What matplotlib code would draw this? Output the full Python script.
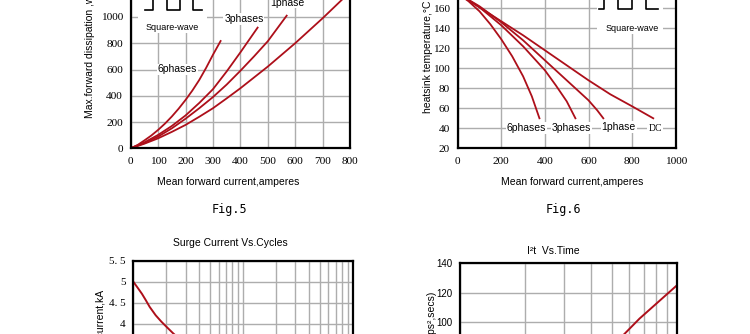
import numpy as np
import matplotlib
matplotlib.use("Agg")
import matplotlib.pyplot as plt
from matplotlib.patches import Rectangle
from matplotlib.ticker import FixedLocator, NullFormatter

# Fig.5 - max forward dissipation vs mean forward current
diss_6ph_x = [0, 25, 50, 75, 100, 125, 150, 175, 200, 225, 250, 275, 300, 328]
diss_6ph_y = [0, 25, 60, 97, 140, 188, 242, 302, 368, 440, 520, 612, 712, 817]
diss_3ph_x = [0, 50, 100, 150, 200, 250, 300, 350, 400, 463]
diss_3ph_y = [0, 45, 102, 170, 250, 345, 450, 585, 730, 919]
diss_1ph_x = [0, 50, 100, 150, 200, 250, 300, 350, 400, 450, 500, 569]
diss_1ph_y = [0, 40, 89, 152, 225, 305, 390, 485, 590, 700, 815, 1010]
diss_dc_x = [0, 50, 100, 150, 200, 250, 300, 350, 400, 500, 600, 700, 790]
diss_dc_y = [0, 35, 76, 125, 178, 240, 305, 380, 457, 622, 800, 990, 1170]

# Fig.6 - heatsink temperature vs mean forward current
temp_6ph_x = [0, 50, 100, 150, 200, 250, 300, 340, 375]
temp_6ph_y = [175, 167, 157, 144, 129, 112, 92, 72, 50]
temp_3ph_x = [0, 100, 200, 300, 400, 450, 500, 540]
temp_3ph_y = [175, 161, 143, 122, 98, 83, 67, 50]
temp_1ph_x = [0, 100, 200, 300, 400, 500, 600, 640, 668]
temp_1ph_y = [175, 162, 146, 128, 108, 88, 68, 58, 50]
temp_dc_x = [0, 100, 200, 300, 400, 500, 600, 700, 800, 897]
temp_dc_y = [175, 161, 147, 133, 118, 103, 88, 74, 62, 50]

# surge current vs cycles
surge_cycles = [1, 1.1, 1.2, 1.3, 1.41, 1.6, 1.8, 2, 2.31, 2.6]
surge_ka = [5.0, 4.85, 4.71, 4.56, 4.40, 4.20, 4.05, 3.93, 3.77, 3.65]
surge_ticks = [2.5, 3, 3.5, 4, 4.5, 5, 5.5]
surge_ticklabels = ["2. 5", "3", "3. 5", "4", "4. 5", "5", "5. 5"]

# I2t vs time
i2t_ms = [5.2, 6.7, 10]
i2t_val = [86, 102.5, 125.3]

RED = "#ad0f1a"
GRID = "#adadad"
SANS = "Liberation Sans"
SERIF = "Liberation Serif"

W, H = 750, 334


def box(l, t, r, b):
    return [l / W, 1 - b / H, (r - l) / W, (b - t) / H]


def px(x, y):
    return x / W, 1 - y / H


def style(ax, font, size):
    ax.grid(True, which="both", color=GRID, lw=1.0)
    ax.set_axisbelow(True)
    for s in ax.spines.values():
        s.set_linewidth(1.6)
    ax.tick_params(which="both", length=0, labelsize=size)
    ax.tick_params(axis="x", pad=6.0)
    ax.tick_params(axis="y", pad=5.5)
    for lab in ax.get_xticklabels() + ax.get_yticklabels():
        lab.set_fontfamily(font)


fig = plt.figure(figsize=(7.5, 3.34), dpi=100)

lbl = dict(fontfamily=SANS, fontsize=7.5, ha="center", va="center",
           bbox=dict(fc="white", ec="none", pad=0.6))

# ---- Fig.5
ax5 = fig.add_axes(box(130.7, -9.3, 350, 148.3))
ax5.set_xlim(0, 800)
ax5.set_ylim(0, 1200)
ax5.set_xticks(range(0, 801, 100))
ax5.set_yticks(range(0, 1201, 200))
style(ax5, SERIF, 8.2)
ax5.add_patch(Rectangle((27, 878), 251, 400, fc="white", ec="none", zorder=1))
for xs, ys in [(diss_6ph_x, diss_6ph_y), (diss_3ph_x, diss_3ph_y),
               (diss_1ph_x, diss_1ph_y), (diss_dc_x, diss_dc_y)]:
    ax5.plot(xs, ys, color=RED, lw=1.3, solid_joinstyle="round")
ax5.plot([52, 82, 82, 131, 131, 180, 180, 228, 228, 259],
         [1053, 1053, 1190, 1190, 1053, 1053, 1190, 1190, 1053, 1053],
         color="black", lw=1.2)
ax5.text(150, 922, "Square-wave", **{**lbl, "fontsize": 6.5})
ax5.text(170, 601, "6phases", **lbl)
ax5.text(413, 982, "3phases", **lbl)
ax5.text(572, 1109, "1phase", **lbl)

# ---- Fig.6
ax6 = fig.add_axes(box(457.7, -11.7, 675.7, 148.3))
ax6.set_xlim(0, 1000)
ax6.set_ylim(20, 180)
ax6.set_xticks(range(0, 1001, 200))
ax6.set_yticks(range(20, 181, 20))
style(ax6, SERIF, 8.2)
ax6.add_patch(Rectangle((640, 134), 300, 60, fc="white", ec="none", zorder=1))
for xs, ys in [(temp_6ph_x, temp_6ph_y), (temp_3ph_x, temp_3ph_y),
               (temp_1ph_x, temp_1ph_y), (temp_dc_x, temp_dc_y)]:
    ax6.plot(xs, ys, color=RED, lw=1.3, solid_joinstyle="round")
ax6.plot([650, 671, 671, 737, 737, 798, 798, 864, 864, 921],
         [159, 159, 178, 178, 159, 159, 178, 178, 159, 159],
         color="black", lw=1.2)
ax6.text(800, 140, "Square-wave", **{**lbl, "fontsize": 6.5})
ax6.text(316, 40.3, "6phases", **lbl)
ax6.text(522, 40.3, "3phases", **lbl)
ax6.text(738, 41, "1phase", **lbl)
ax6.text(905, 39.5, "DC", **{**lbl, "fontfamily": SERIF, "fontsize": 7})

# ---- surge current
axs = fig.add_axes(box(133.3, 260.7, 352.7, 407.7))
axs.set_xscale("log")
axs.set_xlim(1, 100)
axs.set_ylim(2.0, 5.5)
axs.set_yticks(surge_ticks)
axs.set_yticklabels(surge_ticklabels)
axs.xaxis.set_minor_formatter(NullFormatter())
style(axs, SERIF, 8)
axs.plot(surge_cycles, surge_ka, color=RED, lw=1.4, solid_joinstyle="round")

# ---- I2t
axi = fig.add_axes(box(460, 263.3, 677.3, 410.8))
axi.set_xscale("log")
axi.set_xlim(1, 10)
axi.set_ylim(40, 140)
axi.set_yticks(range(40, 141, 20))
axi.xaxis.set_minor_locator(FixedLocator(range(2, 10)))
axi.xaxis.set_minor_formatter(NullFormatter())
style(axi, SANS, 7)
axi.plot(i2t_ms, i2t_val, color=RED, lw=1.4)

# axis labels, titles and captions
ylab = dict(fontfamily=SANS, fontsize=7.5, rotation=90, ha="center")
fig.text(*px(90, 118), "Max.forward dissipation ,w", va="bottom", **ylab)
fig.text(*px(428, 113), "heatsink temperature,°C", va="bottom", **ylab)
fig.text(*px(101, 290), "Surge current,kA", va="top", **ylab)
fig.text(*px(431, 290.7), "I²t(amps²,secs)", va="top", **ylab)

xlab = dict(fontfamily=SANS, fontsize=7.5, ha="center", va="center")
fig.text(*px(228, 182), "Mean forward current,amperes", **xlab)
fig.text(*px(572.5, 182), "Mean forward current,amperes", **xlab)
fig.text(*px(230.5, 243), "Surge Current Vs.Cycles", **xlab)
fig.text(*px(553, 251), "I²t  Vs.Time", **xlab)

cap = dict(fontfamily="DejaVu Sans Mono", fontsize=8.5, ha="center", va="center")
fig.text(*px(229, 210), "Fig.5", **cap)
fig.text(*px(563, 210), "Fig.6", **cap)

fig.savefig("out.png", dpi=100)
